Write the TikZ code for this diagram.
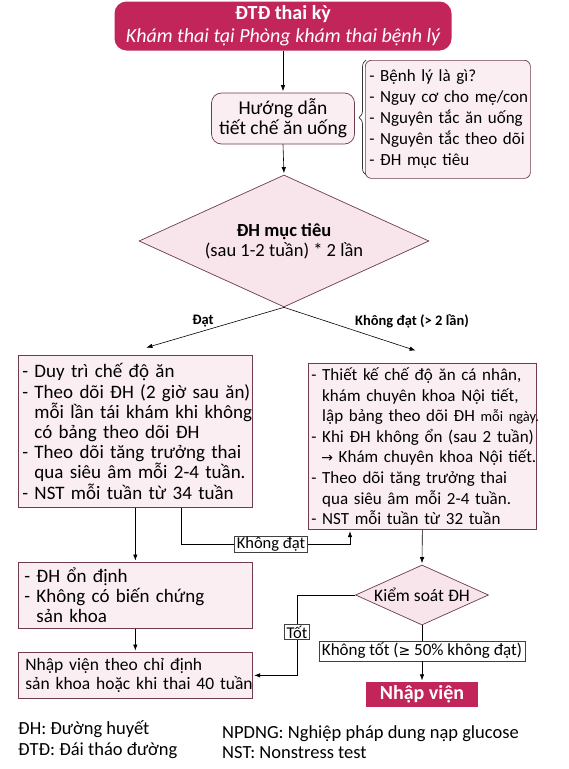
\documentclass[tikz,border=0pt]{standalone}
\usepackage{fontspec}
\setmainfont{Carlito}
\newfontfamily\djv{DejaVu Sans}
\usetikzlibrary{shapes.geometric,arrows.meta,calc,decorations.pathreplacing}
\definecolor{mag}{HTML}{C2255A}
\definecolor{pinkfill}{HTML}{FAEEF2}
\definecolor{dmfill}{HTML}{F7E5EB}
\definecolor{edgec}{HTML}{6E3C4B}
\newcommand\rowt[1]{\mbox{#1}}
\newcommand\ind{\phantom{-}\ }
\begin{document}
\begin{tikzpicture}[x=1pt,y=-1pt,
  box/.style={draw=edgec, line width=0.7pt, fill=pinkfill, inner ysep=0pt, align=left, anchor=north west},
  lbl/.style={draw=black!75, line width=0.6pt, fill=white, inner xsep=2pt, inner ysep=1pt},
  dlbl/.style={font=\fontsize{14.5}{16}\selectfont\bfseries, inner sep=0pt},
  arr/.style={-{Latex[length=6pt,width=4.5pt]}, line width=0.6pt, shorten >=1.5pt},
  conn/.style={line width=0.6pt},
]
\useasboundingbox (0,0) rectangle (569,769);
\fill[white] (0,0) rectangle (569,769);

% top box
\node[fill=mag, rounded corners=12pt, minimum width=337pt, minimum height=49pt, align=center,
  text=white, inner sep=0pt, font=\fontsize{20}{23}\selectfont] (top) at (283,26)
  {{\bfseries ĐTĐ thai kỳ}\\{\itshape Khám thai tại Phòng khám thai bệnh lý}};

% guidance box
\node[draw=edgec, line width=0.7pt, fill=pinkfill, rounded corners=10pt, minimum width=143pt,
  minimum height=51pt, align=center, inner sep=0pt, font=\fontsize{19.5}{20}\selectfont] (hd) at (283,118.5)
  {Hướng dẫn\\tiết chế ăn uống};

% brace + list
\draw[decorate, decoration={brace, amplitude=7pt}, line width=0.7pt, black!80] (366,175) -- (366,60);
\node[draw=edgec, line width=0.7pt, fill=pinkfill, rounded corners=6pt, anchor=north west,
  minimum width=165pt, minimum height=118pt, text width=157pt, inner xsep=4pt, inner ysep=0pt,
  align=left, font=\fontsize{17}{21}\selectfont] (list) at (365,60)
  {\rowt{- Bệnh lý là gì?}\\\rowt{- Nguy cơ cho mẹ/con}\\\rowt{- Nguyên tắc ăn uống}\\\rowt{- Nguyên tắc theo dõi}\\\rowt{- ĐH mục tiêu}};

% decision diamond
\node[diamond, aspect=2.2, draw=edgec, line width=0.7pt, fill=dmfill, minimum width=290pt, minimum height=132pt,
  inner sep=0pt, align=center, font=\fontsize{18.5}{20}\selectfont] (dm) at (284,241)
  {\textbf{ĐH mục tiêu}\\(sau 1-2 tuần) * 2 lần};

\draw[arr] (top.south -| hd.north) -- (hd.north);
\draw[arr] (hd.south) -- (dm.north);

\coordinate (la) at (145,348);
\coordinate (ra) at (417,351);
\draw[arr] (dm.south) -- (la);
\draw[arr] (dm.south) -- (ra);
\node[dlbl] (dat) at (203,321) {Đạt};
\node[dlbl] (kdat) at (412,321) {Không đạt (> 2 lần)};

% left box
\node[box, text width=226pt, inner xsep=4pt, minimum height=152pt, font=\fontsize{19}{20.2}\selectfont] (lb) at (18,355)
  {\rowt{- Duy trì chế độ ăn}\\
   \rowt{- Theo dõi ĐH (2 giờ sau ăn)}\\
   \rowt{\ind mỗi lần tái khám khi không}\\
   \rowt{\ind có bảng theo dõi ĐH}\\
   \rowt{- Theo dõi tăng trưởng thai}\\
   \rowt{\ind qua siêu âm mỗi 2-4 tuần.}\\
   \rowt{- NST mỗi tuần từ 34 tuần}};

% right box
\node[box, text width=222pt, inner xsep=3pt, minimum height=166pt, font=\fontsize{17}{20.6}\selectfont] (rb) at (308,363)
  {\rowt{- Thiết kế chế độ ăn cá nhân,}\\
   \rowt{\ind khám chuyên khoa Nội tiết,}\\
   \rowt{\ind lập bảng theo dõi ĐH {\fontsize{14.5}{20.6}\selectfont mỗi ngày.}}\\
   \rowt{- Khi ĐH không ổn (sau 2 tuần)}\\
   \rowt{\hspace*{10pt}{\djv\fontsize{14}{20}\selectfont →}\ Khám chuyên khoa Nội tiết.}\\
   \rowt{- Theo dõi tăng trưởng thai}\\
   \rowt{\ind qua siêu âm mỗi 2-4 tuần.}\\
   \rowt{- NST mỗi tuần từ 32 tuần}};

% stable box
\node[box, text width=222pt, inner xsep=6pt, minimum height=66pt, font=\fontsize{19}{20}\selectfont] (ob) at (18,562)
  {\rowt{- ĐH ổn định}\\\rowt{- Không có biến chứng}\\\rowt{\ind sản khoa}};

% admission box
\node[box, text width=220pt, inner xsep=7pt, minimum height=46pt, font=\fontsize{17.5}{19.5}\selectfont] (nv) at (18,652)
  {\rowt{Nhập viện theo chỉ định}\\\rowt{sản khoa hoặc khi thai 40 tuần}};

\draw[arr] (lb.south) -- (ob.north);
\draw[arr] (ob.south) -- (nv.north);

% "Không đạt" loop
\node[lbl, font=\fontsize{16.5}{18}\selectfont] (kd) at (271,544) {Không đạt};
\coordinate (k1) at ($(lb.south)+(46,0)$);
\coordinate (k2) at ($(rb.south west)+(42,0)$);
\draw[conn] (k1) |- (kd.west);
\draw[arr] (kd.east) -| (k2);

% control diamond
\node[diamond, aspect=2.2, draw=edgec, line width=0.7pt, fill=dmfill, minimum width=133pt, minimum height=60pt,
  inner sep=-2pt, font=\fontsize{17.5}{19}\selectfont] (ks) at (422,595) {Kiểm soát ĐH};
\draw[arr] (rb.south) -- (ks.north);

\node[lbl, font=\fontsize{16.5}{18}\selectfont] (tot) at (297,632) {Tốt};
\draw[conn] (ks.west) -| (tot.north);
\draw[arr] (tot.south) |- (nv.east);

\node[lbl, font=\fontsize{17}{19}\selectfont, inner xsep=3pt, inner ysep=2pt] (kt) at (422,651)
  {Không tốt ({\djv\fontsize{14}{16}\selectfont ≥} 50\% không đạt)};
\draw[conn] (ks.south) -- (kt.north);

\node[fill=mag, text=white, minimum width=112pt, minimum height=25pt, inner sep=0pt,
  font=\fontsize{20}{22}\selectfont\bfseries] (nhap) at (422,694.5) {Nhập viện};
\draw[arr] (kt.south) -- (nhap.north);

% legend
\node[anchor=west, align=left, inner sep=0pt, font=\fontsize{18.5}{21}\selectfont] (leg1) at (18,740)
  {ĐH: Đường huyết\\ĐTĐ: Đái tháo đường};
\node[anchor=west, align=left, inner sep=0pt, font=\fontsize{18.5}{20}\selectfont] (leg2) at (222,742)
  {NPDNG: Nghiệp pháp dung nạp glucose\\NST: Nonstress test};
\end{tikzpicture}
\end{document}
